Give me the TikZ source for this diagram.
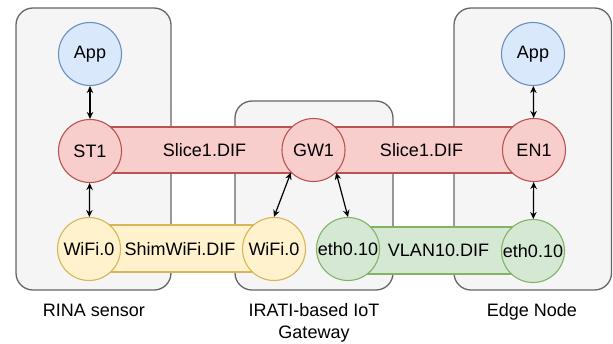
\documentclass[tikz,border=0pt]{standalone}
\usepackage{fontspec}
\setmainfont{Liberation Sans}
\usetikzlibrary{arrows.meta}
\definecolor{boxfill}{HTML}{F5F5F5}
\definecolor{boxline}{HTML}{666666}
\definecolor{bluefill}{HTML}{DAE8FC}
\definecolor{blueline}{HTML}{6C8EBF}
\definecolor{redfill}{HTML}{F8CECC}
\definecolor{redline}{HTML}{B85450}
\definecolor{yelfill}{HTML}{FFF2CC}
\definecolor{yelline}{HTML}{D6B656}
\definecolor{grnfill}{HTML}{D5E8D4}
\definecolor{grnline}{HTML}{82B366}
\begin{document}
\begin{tikzpicture}[x=1pt,y=-1pt,
  every node/.style={font=\fontsize{18}{22}\selectfont},
  devbox/.style={draw=boxline,fill=boxfill,line width=1.3pt,rounded corners=17pt},
  ipcp/.style={circle,minimum size=63pt,inner sep=0pt,line width=1.1pt},
  appnode/.style={ipcp,draw=blueline,fill=bluefill},
  slicenode/.style={ipcp,draw=redline,fill=redfill},
  wifinode/.style={ipcp,draw=yelline,fill=yelfill},
  ethnode/.style={ipcp,draw=grnline,fill=grnfill},
  sliceband/.style={draw=redline,fill=redfill,line width=1.1pt},
  wifiband/.style={draw=yelline,fill=yelfill,line width=1.1pt},
  ethband/.style={draw=grnline,fill=grnfill,line width=1.1pt},
  biarrow/.style={line width=1.2pt,{Stealth[length=7pt,width=6.5pt]}-{Stealth[length=7pt,width=6.5pt]}},
  caption/.style={inner sep=0pt}
]
\useasboundingbox (0,0) rectangle (613,343);

% systems
\draw[devbox] (16,8) rectangle (171,290);
\draw[devbox] (235,101) rectangle (393,290);
\draw[devbox] (454,8) rectangle (611.5,290);

% DIF bands
\draw[sliceband] (90,127) rectangle (534,173);
\draw[wifiband] (89,225) rectangle (274,272);
\draw[ethband] (348,227) rectangle (533,274);

\node at (204.5,150) {Slice1.DIF};
\node at (421.5,150) {Slice1.DIF};
\node at (180,249) {ShimWiFi.DIF};
\node at (438.5,250) {VLAN10.DIF};

% IPC processes
\node[appnode] (app1) at (90,54) {App};
\node[appnode] (app2) at (533,54) {App};
\node[slicenode] (st1) at (90,151) {ST1};
\node[slicenode] (gw1) at (313.5,150) {GW1};
\node[slicenode] (en1) at (534,150) {EN1};
\node[wifinode] (wifiA) at (89,249) {WiFi.0};
\node[wifinode] (wifiB) at (274,249) {WiFi.0};
\node[ethnode] (ethA) at (348,249) {eth0.10};
\node[ethnode] (ethB) at (533,251) {eth0.10};

% bindings
\draw[biarrow] (app1) -- (st1);
\draw[biarrow] (st1) -- (wifiA);
\draw[biarrow] (gw1.south west) -- (wifiB.north);
\draw[biarrow] (gw1.south east) -- (ethA.north);
\draw[biarrow] (app2) -- (en1);
\draw[biarrow] (en1) -- (ethB);

% captions
\node[caption,anchor=base] (capA) at (94,316) {RINA sensor};
\node[caption,anchor=north,align=center] (capB) at (314,302.8) {IRATI-based IoT\\Gateway};
\node[caption,anchor=base] (capC) at (532,316) {Edge Node};
\end{tikzpicture}
\end{document}
